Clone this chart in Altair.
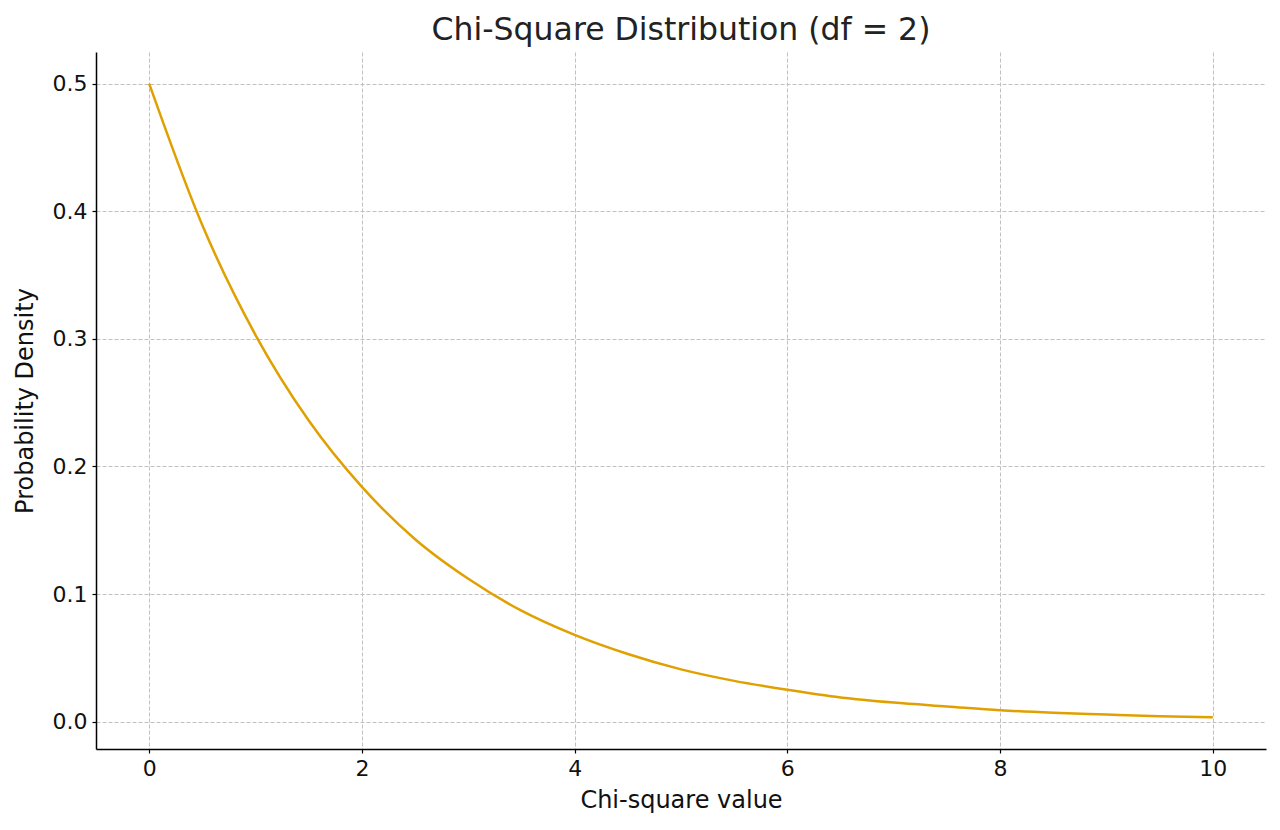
import pandas as pd
import altair as alt

# values
chi_values = [0, 0.5, 1, 1.5, 2, 2.5, 3, 3.5, 4, 4.5, 5,
              5.5, 6, 6.5, 7, 7.5, 8, 8.5, 9, 9.5, 10]
density = [0.500, 0.389, 0.303, 0.236, 0.184, 0.143, 0.112, 0.087, 0.068, 0.053, 0.041,
           0.032, 0.025, 0.019, 0.015, 0.012, 0.009, 0.007, 0.0056, 0.0043, 0.0034]
x_ticks = [0, 2, 4, 6, 8, 10]
y_ticks = [0.0, 0.1, 0.2, 0.3, 0.4, 0.5]

df = pd.DataFrame({'chi': chi_values, 'pdf': density})

font = 'DejaVu Sans'

chart = alt.Chart(df).mark_line(
    color='#e0a000', strokeWidth=2.5, interpolate='monotone'
).encode(
    x=alt.X('chi:Q', title='Chi-square value',
            scale=alt.Scale(domain=[-0.5, 10.5], nice=False, zero=False),
            axis=alt.Axis(values=x_ticks, format='d')),
    y=alt.Y('pdf:Q', title='Probability Density',
            scale=alt.Scale(domain=[-0.0214, 0.5248], nice=False, zero=False),
            axis=alt.Axis(values=y_ticks, format='.1f')),
).properties(
    width=1170,
    height=697,
    title=alt.TitleParams('Chi-Square Distribution (df = 2)', fontSize=31.5,
                          font=font, fontWeight='normal', color='#222222',
                          anchor='middle', offset=6),
    autosize=alt.AutoSizeParams(type='none'),
    padding={'left': 88, 'top': 44, 'right': 6, 'bottom': 66},
    background='white',
).configure_view(
    stroke=None
).configure_axis(
    labelFont=font, labelFontSize=22, labelColor='#111111',
    titleFont=font, titleFontSize=24, titleFontWeight='normal', titleColor='#111111',
    domainColor='black', domainWidth=1.5,
    tickColor='black', tickSize=4, tickWidth=1.2,
    grid=True, gridColor='#c0c0c0', gridDash=[4, 2], gridWidth=1,
    labelPadding=5,
).configure_axisX(
    titlePadding=9,
).configure_axisY(
    titlePadding=15,
)

chart.save("out.html", embed_options={"renderer": "svg", "actions": False})
